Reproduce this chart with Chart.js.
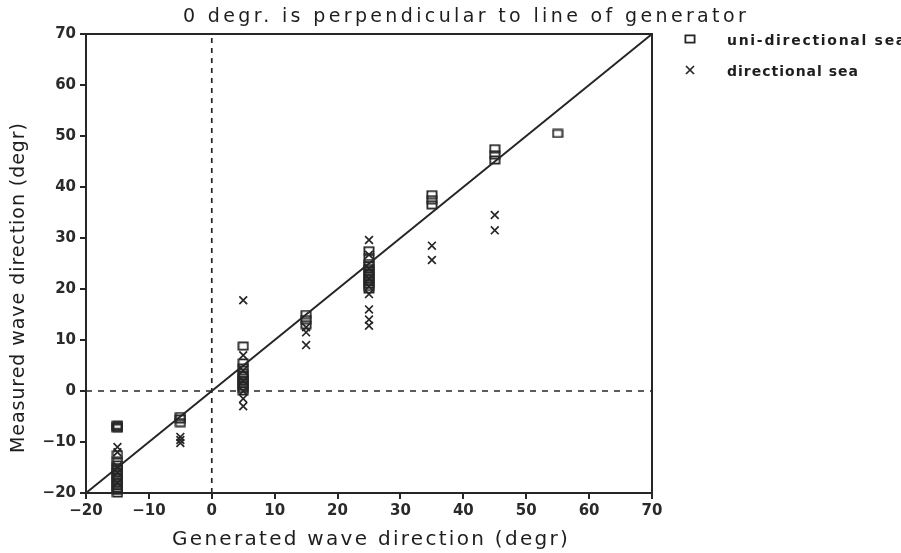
<!DOCTYPE html>
<html>
<head>
<meta charset="utf-8">
<script src="https://cdn.jsdelivr.net/npm/chart.js@4/dist/chart.umd.min.js"></script>
<style>
  html, body { margin: 0; padding: 0; background: #fff; }
  #wrap { width: 901px; height: 553px; position: relative; }
</style>
</head>
<body>
<div id="wrap"><canvas id="c" width="901" height="553"></canvas></div>
<script>
// Generated vs. measured wave direction (degrees)
const axisTicks = [-20, -10, 0, 10, 20, 30, 40, 50, 60, 70];

// Uni-directional sea: generated direction / measured direction
const uniGenerated = [
  -15, -15, -15, -15, -15, -15, -15, -15, -15, -15, -15, -15, -15, -15, -15, -15, -15, -15,
  -5, -5, -5,
  5, 5, 5, 5, 5, 5, 5, 5, 5, 5, 5,
  15, 15, 15,
  25, 25, 25, 25, 25, 25, 25, 25, 25, 25, 25, 25, 25,
  35, 35, 35,
  45, 45, 45,
  55
];
const uniMeasured = [
  -6.7, -6.9, -7.1, -7.3, -12.5, -13.8, -14.5, -15, -15.5, -16, -16.5, -17, -17.5, -18, -18.5, -19, -19.5, -20,
  -5.0, -5.5, -6.2,
  8.8, 5.5, 4.5, 3.5, 3, 2.5, 2, 1.5, 1, 0.5, 0,
  15, 14, 13,
  27.5, 26, 25, 24.5, 24, 23.5, 23, 22.5, 22, 21.5, 21, 20.5, 20,
  38.5, 37.5, 36.5,
  47.5, 46.3, 45.3,
  50.5
];

// Directional sea: generated direction / measured direction
const dirGenerated = [
  -15, -15, -15, -15, -15,
  -5, -5, -5,
  5, 5, 5, 5, 5, 5, 5,
  15, 15, 15,
  25, 25, 25, 25, 25, 25, 25, 25, 25,
  35, 35,
  45, 45
];
const dirMeasured = [
  -11, -12, -14.8, -16, -18,
  -9, -9.6, -10.2,
  17.8, 7, 4, 2, 0, -1.5, -3,
  12.5, 11.5, 9,
  29.6, 26.7, 24, 22, 20.5, 19, 16, 14, 12.8,
  28.5, 25.7,
  34.5, 31.5
];

// Reference lines: perfect agreement and the zero axes
const diagonalEnds = [-20, 70];
const zeroLine = [0, 0];

const INK = '#262626';
const FONT = "'DejaVu Sans', sans-serif";

function pairs(xs, ys) { return xs.map((x, i) => ({ x: x, y: ys[i] })); }

// Open rectangle marker
function makeSquareMarker() {
  const c = document.createElement('canvas');
  c.width = 12; c.height = 10;
  const g = c.getContext('2d');
  g.strokeStyle = INK;
  g.lineWidth = 1.8;
  g.strokeRect(1.4, 1.4, 9.2, 7.2);
  return c;
}
const squareMarker = makeSquareMarker();

// Draws a text string stretched to a given width via letter spacing
function spacedText(ctx, text, x, y, font, targetWidth) {
  ctx.font = font;
  ctx.letterSpacing = '0px';
  const w = ctx.measureText(text).width;
  const sp = targetWidth ? (targetWidth - w) / (text.length) : 0;
  ctx.letterSpacing = sp.toFixed(2) + 'px';
  ctx.fillText(text, x, y);
  ctx.letterSpacing = '0px';
}

const decorations = {
  id: 'decorations',
  afterDraw(chart) {
    const ctx = chart.ctx;
    const a = chart.chartArea;
    ctx.save();
    // frame: top and right edges
    ctx.strokeStyle = INK;
    ctx.lineWidth = 2;
    ctx.beginPath();
    ctx.moveTo(a.left, a.top);
    ctx.lineTo(a.right, a.top);
    ctx.lineTo(a.right, a.bottom);
    ctx.stroke();

    ctx.fillStyle = '#1e1e1e';
    ctx.textBaseline = 'middle';
    ctx.textAlign = 'left';
    // title
    spacedText(ctx, '0 degr. is perpendicular to line of generator', 183, 17, '19px ' + FONT, 566);
    // x axis title
    spacedText(ctx, 'Generated wave direction (degr)', 172, 540, '20px ' + FONT, 398);
    // y axis title
    ctx.save();
    ctx.translate(19, 453);
    ctx.rotate(-Math.PI / 2);
    spacedText(ctx, 'Measured wave direction (degr)', 0, 0, '19px ' + FONT, 331);
    ctx.restore();

    // legend
    const lx = a.right + 38, ly1 = a.top + 5, ly2 = a.top + 36;
    ctx.drawImage(squareMarker, lx - 6, ly1 - 5);
    ctx.lineWidth = 1.7;
    ctx.beginPath();
    ctx.moveTo(lx - 4, ly2 - 4); ctx.lineTo(lx + 4, ly2 + 4);
    ctx.moveTo(lx + 4, ly2 - 4); ctx.lineTo(lx - 4, ly2 + 4);
    ctx.stroke();
    spacedText(ctx, 'uni-directional sea', lx + 37, ly1 + 2, 'bold 14px ' + FONT, 180);
    spacedText(ctx, 'directional sea', lx + 37, ly2 + 2, 'bold 14px ' + FONT, 132);
    ctx.restore();
  }
};

const tickFont = { family: FONT, size: 15, weight: 'bold' };
const tickLabel = v => (v < 0 ? '\u2212' + Math.abs(v) : String(v));

new Chart(document.getElementById('c'), {
  type: 'scatter',
  data: {
    datasets: [
      {
        label: 'perfect agreement',
        type: 'line',
        data: pairs(diagonalEnds, diagonalEnds),
        borderColor: INK, borderWidth: 2, pointRadius: 0, fill: false, clip: false
      },
      {
        label: 'zero generated',
        type: 'line',
        data: pairs(zeroLine, diagonalEnds),
        borderColor: INK, borderWidth: 1.7, borderDash: [5, 5], pointRadius: 0, fill: false
      },
      {
        label: 'zero measured',
        type: 'line',
        data: pairs(diagonalEnds, zeroLine),
        borderColor: INK, borderWidth: 1.7, borderDash: [6, 6], pointRadius: 0, fill: false
      },
      {
        label: 'uni-directional sea',
        data: pairs(uniGenerated, uniMeasured),
        pointStyle: squareMarker,
        pointRadius: 5,
        clip: false
      },
      {
        label: 'directional sea',
        data: pairs(dirGenerated, dirMeasured),
        pointStyle: 'crossRot',
        pointRadius: 5.5,
        pointBorderWidth: 1.7,
        borderColor: INK,
        backgroundColor: INK,
        clip: false
      }
    ]
  },
  options: {
    responsive: false,
    animation: false,
    devicePixelRatio: 1,
    layout: { padding: { top: 34, right: 249, left: 0, bottom: 0 } },
    plugins: {
      legend: { display: false },
      title: { display: false },
      tooltip: { enabled: false }
    },
    scales: {
      x: {
        type: 'linear',
        min: axisTicks[0], max: axisTicks[axisTicks.length - 1],
        afterBuildTicks: s => { s.ticks = axisTicks.map(v => ({ value: v })); },
        ticks: { font: tickFont, color: '#2a2a2a', padding: 3, maxRotation: 0, callback: tickLabel },
        grid: { drawOnChartArea: false, drawTicks: true, tickLength: 6, color: INK, lineWidth: 2 },
        border: { color: INK, width: 2 },
        afterFit: s => { s.height = 60; }
      },
      y: {
        type: 'linear',
        min: axisTicks[0], max: axisTicks[axisTicks.length - 1],
        afterBuildTicks: s => { s.ticks = axisTicks.map(v => ({ value: v })); },
        ticks: { font: tickFont, color: '#2a2a2a', padding: 4, callback: tickLabel },
        grid: { drawOnChartArea: false, drawTicks: true, tickLength: 6, color: INK, lineWidth: 2 },
        border: { color: INK, width: 2 },
        afterFit: s => { s.width = 86; }
      }
    }
  },
  plugins: [decorations]
});
</script>
</body>
</html>
